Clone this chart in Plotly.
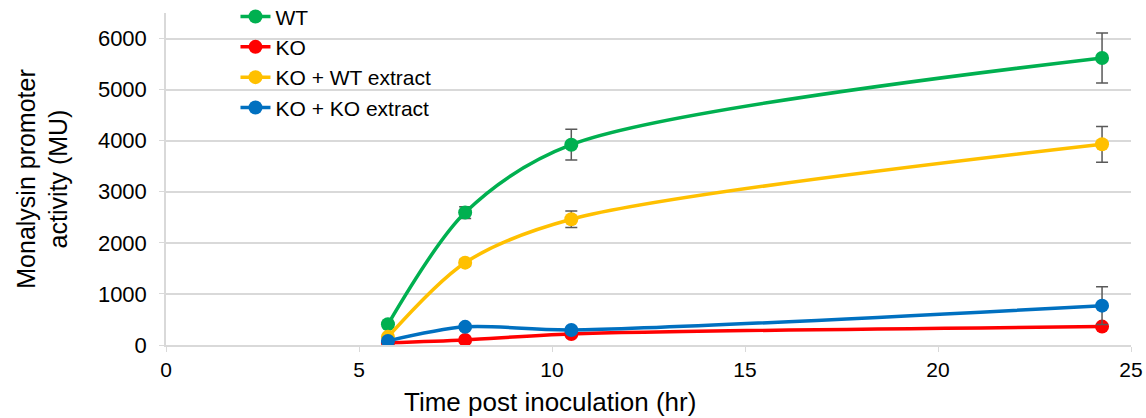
import plotly.graph_objects as go

time_hr = [5.75, 7.75, 10.5, 24.25]

wt = [405, 2594, 3922, 5620]
wt_err = [60, 115, 300, 490]

ko = [45, 100, 215, 360]
ko_err = [20, 30, 40, 50]

ko_wt = [160, 1612, 2462, 3930]
ko_wt_err = [40, 60, 163, 350]

ko_ko = [80, 355, 295, 770]
ko_ko_err = [20, 50, 40, 370]

series = [
    ("WT", wt, wt_err, "#00b050"),
    ("KO", ko, ko_err, "#ff0000"),
    ("KO + WT extract", ko_wt, ko_wt_err, "#ffc000"),
    ("KO + KO extract", ko_ko, ko_ko_err, "#0070c0"),
]

fig = go.Figure()
for name, vals, errs, col in series:
    fig.add_trace(go.Scatter(
        x=time_hr, y=vals, name=name, mode="lines+markers",
        line=dict(color=col, width=3.5, shape="spline", smoothing=0.85),
        marker=dict(color=col, size=14),
        error_y=dict(type="data", array=errs, visible=True,
                     color="#595959", thickness=1.5, width=6),
    ))

font_family = "Liberation Sans, Arial, sans-serif"
fig.update_layout(
    width=1146, height=418,
    margin=dict(l=166, r=15, t=13, b=73, autoexpand=False),
    paper_bgcolor="white", plot_bgcolor="white",
    font=dict(family=font_family, size=21, color="#000000"),
    showlegend=True,
    legend=dict(x=0.072, y=1.05, xanchor="left", yanchor="top",
                bgcolor="rgba(0,0,0,0)", font=dict(size=21),
                traceorder="normal", tracegroupgap=0),
    xaxis=dict(
        range=[0, 25], dtick=5, tick0=0, automargin=False,
        showgrid=False, zeroline=False,
        showline=True, linecolor="#d9d9d9", linewidth=1.5,
        ticks="outside", tickcolor="#d9d9d9", ticklen=5,
        tickfont=dict(size=21),
    ),
    yaxis=dict(
        range=[0, 6500], dtick=1000, tick0=0, automargin=False,
        showgrid=True, gridcolor="#d9d9d9", gridwidth=1.5,
        zeroline=False,
        showline=True, linecolor="#d9d9d9", linewidth=1.5,
        ticks="outside", tickcolor="#d9d9d9", ticklen=5,
        ticklabelstandoff=8,
        tickfont=dict(size=22),
        title=dict(text="Monalysin promoter<br>activity (MU)", font=dict(size=25), standoff=23),
    ),
    annotations=[dict(
        text="Time post inoculation (hr)", xref="paper", yref="paper",
        x=0.398, y=-0.172, xanchor="center", yanchor="middle",
        showarrow=False, font=dict(size=26),
    )],
)

fig.write_html("out.html", config={"displayModeBar": False},
               post_script="document.body.style.margin='0';document.body.style.overflow='hidden';")
